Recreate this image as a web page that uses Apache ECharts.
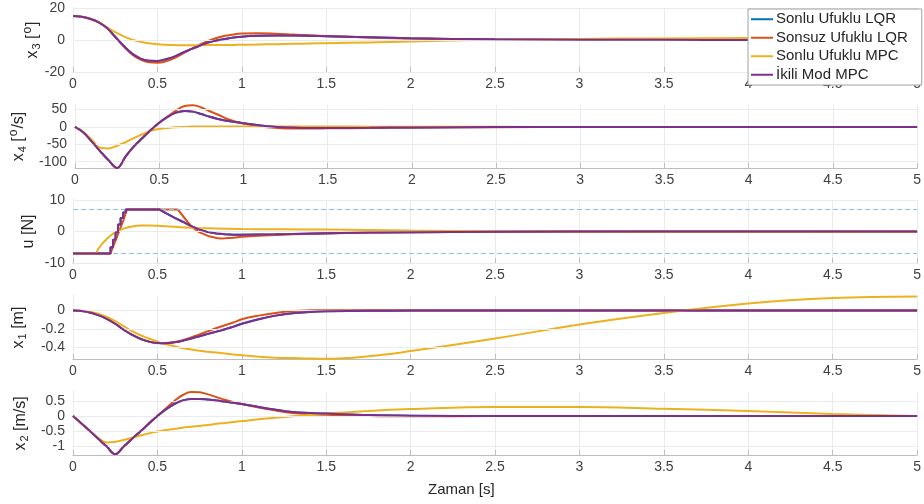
<!DOCTYPE html>
<html>
<head>
<meta charset="utf-8">
<script src="https://cdn.jsdelivr.net/npm/echarts@6/dist/echarts.min.js"></script>
<style>html,body{margin:0;padding:0;background:#fff;}#c{width:924px;height:504px;}</style>
</head>
<body>
<div id="c"></div>
<script>
// ---- data ----
const seriesNames = ['Sonlu Ufuklu LQR', 'Sonsuz Ufuklu LQR', 'Sonlu Ufuklu MPC', 'İkili Mod MPC'];
const xTicks = [0, 0.5, 1, 1.5, 2, 2.5, 3, 3.5, 4, 4.5, 5];
const yTicksX3 = [-20, 0, 20];
const yTicksX4 = [-100, -50, 0, 50];
const yTicksU  = [-10, 0, 10];
const yTicksX1 = [-0.4, -0.2, 0];
const yTicksX2 = [-1, -0.5, 0, 0.5];
const T = [0,0.05,0.1,0.15,0.2,0.25,0.3,0.35,0.4,0.45,0.5,0.55,0.6,0.65,0.7,0.75,0.8,0.85,0.9,0.95,1.0,1.1,1.2,1.3,1.4,1.5,1.75,2,2.5,3,3.5,4,4.5,5];

// x3 [deg]
const x3Dual = [15,14.6,13.3,11.2,7.6,2,-3.6,-8.5,-11.6,-13,-13.1,-12,-10.4,-7.9,-5.7,-3.6,-1.6,-0.3,0.6,1.5,2.1,2.6,2.8,2.8,2.7,2.4,1.7,1.1,0.4,0.2,0.1,0,0,0];
const x3Inf  = [15,14.6,13.3,11.2,7.6,1.8,-4,-9,-12.3,-13.9,-14.2,-13.3,-11.3,-8.5,-5.6,-2.9,-0.6,1.2,2.6,3.5,4.0,4.2,3.9,3.4,2.9,2.5,1.6,0.9,0.2,0,0,0,0,0];
const x3Mpc  = [15,14.6,13.3,11.3,8,4.9,2.3,0.2,-1.1,-2.1,-2.7,-3.0,-3.2,-3.3,-3.3,-3.3,-3.2,-3.2,-3.1,-3.1,-3.0,-2.8,-2.6,-2.4,-2.2,-2.0,-1.5,-0.9,0.3,0.7,1.0,1.2,1.2,1.0];
const x3Fin  = x3Dual;

// x4 [deg/s]
const x4Dual = [0,-16,-42,-70,-96,-118,-85,-56,-32,-9,12,29,41,46,44,37,29,23,18,14,10.5,4,0,-2,-3,-3,-2.5,-1.5,-0.5,-0.2,0,0,0,0];
const x4Inf  = [0,-16,-42,-70,-96,-118,-85,-56,-32,-9,12,30,47,60,62.5,56,45,35,24,16,10,1,-3,-4.5,-4.5,-4,-3,-2,-0.7,-0.2,0,0,0,0];
const x4Mpc  = [0,-15,-37,-60,-62,-54,-44,-32,-21,-11,-6,-3,-1,0,1,1.3,1.5,1.5,1.5,1.5,1.5,1.3,1.2,1.1,1.0,1.0,0.8,0.7,0.3,0,0,0,0,0];
const x4Fin  = x4Dual;

// u [N]
const uLimit = 7;
const uTDual = [0,0.222,0.222,0.237,0.237,0.252,0.252,0.267,0.267,0.282,0.282,0.297,0.297,0.312,0.312,0.51,0.55,0.6,0.65,0.7,0.75,0.8,0.85,0.9,0.95,1.0,1.1,1.2,1.3,1.5,1.75,2,2.5,3,4,5];
const uDual  = [-7,-7,-5,-5,-2.6,-2.6,-0.2,-0.2,2.2,2.2,4.3,4.3,6,6,7,7,5.8,4.4,3.1,1.7,0.6,-0.2,-0.6,-0.9,-1.0,-1.0,-0.95,-0.9,-0.8,-0.55,-0.35,-0.2,-0.07,0,0,0];
const uTInf  = [0,0.222,0.24,0.26,0.28,0.3,0.32,0.62,0.65,0.68,0.71,0.75,0.8,0.85,0.875,0.9,0.95,1.0,1.1,1.2,1.3,1.5,1.75,2,2.5,3,4,5];
const uInf   = [-7,-7,-4.5,-1.8,1,3.8,7,7,5,3,1.2,-0.3,-1.4,-2.05,-2.2,-2.15,-1.95,-1.7,-1.35,-1.1,-0.9,-0.6,-0.35,-0.2,-0.07,0,0,0];
const uTMpc  = [0,0.13,0.15,0.175,0.2,0.225,0.25,0.3,0.35,0.4,0.45,0.5,0.6,0.7,0.8,1.0,1.25,1.5,2,2.5,3,4,5];
const uMpc   = [-7,-7,-5.5,-3.8,-2.4,-1.2,-0.3,0.9,1.6,1.9,1.9,1.8,1.5,1.2,1.0,0.8,0.7,0.6,0.3,0.1,0,-0.05,0];
const uTFin  = uTDual;
const uFin   = uDual;

// x1 [m]
const x1Dual = [0,-0.005,-0.02,-0.05,-0.09,-0.144,-0.21,-0.265,-0.31,-0.34,-0.355,-0.357,-0.348,-0.33,-0.305,-0.28,-0.255,-0.23,-0.205,-0.175,-0.144,-0.095,-0.055,-0.028,-0.015,-0.008,-0.002,0,0,0,0,0,0,0];
const x1Inf  = [0,-0.005,-0.02,-0.05,-0.09,-0.144,-0.21,-0.265,-0.31,-0.34,-0.355,-0.355,-0.345,-0.325,-0.295,-0.26,-0.225,-0.19,-0.16,-0.13,-0.095,-0.055,-0.025,-0.005,0.003,0.005,0.004,0.002,0,0,0,0,0,0];
const x1Mpc  = [0,-0.002,-0.012,-0.035,-0.07,-0.115,-0.17,-0.225,-0.27,-0.305,-0.34,-0.37,-0.39,-0.41,-0.425,-0.44,-0.45,-0.46,-0.47,-0.48,-0.49,-0.505,-0.515,-0.52,-0.525,-0.527,-0.5,-0.443,-0.306,-0.151,-0.025,0.079,0.137,0.155];
const x1Fin  = x1Dual;

// x2 [m/s]
const x2Dual = [0,-0.25,-0.5,-0.76,-1.02,-1.27,-1.02,-0.76,-0.51,-0.25,0,0.22,0.4,0.52,0.57,0.57,0.55,0.52,0.48,0.44,0.4,0.3,0.21,0.13,0.1,0.08,0.03,0.01,0,0,0,0,0,0];
const x2Inf  = [0,-0.25,-0.5,-0.76,-1.02,-1.27,-1.02,-0.76,-0.51,-0.25,0,0.25,0.5,0.7,0.8,0.79,0.72,0.63,0.54,0.47,0.4,0.28,0.18,0.1,0.06,0.04,0,-0.01,0,0,0,0,0,0];
const x2Mpc  = [0,-0.25,-0.5,-0.74,-0.88,-0.86,-0.8,-0.72,-0.65,-0.58,-0.52,-0.47,-0.43,-0.39,-0.36,-0.33,-0.3,-0.26,-0.23,-0.2,-0.17,-0.11,-0.06,-0.01,0.03,0.08,0.17,0.23,0.3,0.3,0.24,0.17,0.07,0];
const x2Fin  = x2Dual;

// ---- chart ----
const colors = ['#0072BD', '#D95319', '#EDB120', '#7E2F8E'];
const FONT = "'Liberation Sans', Arial, Helvetica, sans-serif";
const axisGray = '#bdbdbd';
const gridGray = '#ebebeb';
const tickText = '#404040';
const limitBlue = '#8cc0ea';

const panels = [
  {top: 8,   height: 64, min: -20,  max: 20,   ticks: yTicksX3, gap: 30, name: '{n|x}{s|3}{n| [}{p|o}{n|]}',
   data: [x3Fin, x3Inf, x3Mpc, x3Dual]},
  {top: 105, height: 63, min: -118, max: 63,   ticks: yTicksX4, gap: 46, name: '{n|x}{s|4}{n| [}{p|o}{n|/s]}',
   data: [x4Fin, x4Inf, x4Mpc, x4Dual]},
  {top: 200, height: 63, min: -10,  max: 10,   ticks: yTicksU,  gap: 36, name: '{n|u [N]}',
   u: [[uTFin, uFin], [uTInf, uInf], [uTMpc, uMpc], [uTDual, uDual]]},
  {top: 296, height: 63, min: -0.53, max: 0.16, ticks: yTicksX1, gap: 45, name: '{n|x}{s|1}{n| [m]}',
   data: [x1Fin, x1Inf, x1Mpc, x1Dual]},
  {top: 392, height: 63, min: -1.3, max: 0.8,  ticks: yTicksX2, gap: 43, name: '{n|x}{s|2}{n| [m/s]}',
   data: [x2Fin, x2Inf, x2Mpc, x2Dual]}
];

const grid = [], xAxis = [], yAxis = [], series = [];
panels.forEach((p, i) => {
  grid.push({left: 73, right: 5, top: p.top, height: p.height, containLabel: false});
  xAxis.push({
    type: 'value', gridIndex: i, min: 0, max: 5, interval: 0.5,
    axisLine: {show: true, onZero: false, lineStyle: {color: axisGray, width: 1}},
    axisTick: {show: true, inside: true, length: 5, lineStyle: {color: axisGray}},
    axisLabel: {color: tickText, fontSize: 14, fontFamily: FONT, margin: 5},
    splitLine: {show: true, lineStyle: {color: gridGray, width: 1}},
    z: 1
  });
  yAxis.push({
    type: 'value', gridIndex: i, min: p.min, max: p.max,
    name: p.name, nameLocation: 'middle', nameRotate: 90, nameGap: p.gap, nameMoveOverlap: false,
    nameTextStyle: {
      rich: {
        n: {fontSize: 16, color: '#262626', fontFamily: FONT},
        s: {fontSize: 11, color: '#262626', fontFamily: FONT, padding: [8, 0, 0, 1]},
        p: {fontSize: 12, color: '#262626', fontFamily: FONT, padding: [0, 1, 9, 1]}
      }
    },
    axisLine: {show: true, onZero: false, lineStyle: {color: axisGray, width: 1}},
    axisTick: {show: true, inside: true, length: 5, customValues: p.ticks, lineStyle: {color: axisGray}},
    axisLabel: {color: tickText, fontSize: 14, fontFamily: FONT, margin: 8, customValues: p.ticks},
    splitLine: {show: false}
  });
  for (let k = 0; k < 4; k++) {
    let d;
    if (p.u) {
      const [tt, vv] = p.u[k];
      d = tt.map((t, j) => [t, vv[j]]);
    } else {
      d = T.map((t, j) => [t, p.data[k][j]]);
    }
    const smooth = p.u ? (k === 2 ? 0.4 : false) : 0.4;
    const s = {
      name: seriesNames[k], type: 'line', xAxisIndex: i, yAxisIndex: i,
      data: d, symbol: 'none', smooth: smooth,
      lineStyle: {color: colors[k], width: 2}, itemStyle: {color: colors[k]},
      animation: false, z: 2 + k
    };
    if (k === 0) {
      s.markLine = {
        silent: true, symbol: 'none', label: {show: false}, animation: false,
        lineStyle: {color: gridGray, width: 1, type: 'solid'},
        data: p.ticks.map(v => ({yAxis: v}))
      };
    }
    if (k === 1 && p.u) {
      s.markLine = {
        silent: true, symbol: 'none', label: {show: false}, animation: false,
        lineStyle: {color: limitBlue, width: 1, type: [5, 3], opacity: 1},
        emphasis: {disabled: true},
        data: [{yAxis: uLimit}, {yAxis: -uLimit}]
      };
    }
    series.push(s);
  }
});

const chart = echarts.init(document.getElementById('c'), null, {renderer: 'canvas'});
chart.setOption({
  animation: false,
  backgroundColor: '#ffffff',
  grid, xAxis, yAxis, series,
  legend: {
    data: seriesNames, orient: 'vertical', left: 748, top: 9, z: 20,
    icon: 'rect', itemWidth: 22, itemHeight: 2, itemGap: 2,
    padding: [2, 14, 2, 3],
    backgroundColor: '#ffffff', borderColor: '#a0a0a0', borderWidth: 1, borderRadius: 0,
    textStyle: {fontSize: 15, lineHeight: 16.5, color: '#262626', fontFamily: FONT, padding: [0, 0, 0, -2]},
    selectedMode: false
  },
  graphic: [{
    type: 'text', left: 428, top: 482,
    style: {text: 'Zaman [s]', fontSize: 15, fill: '#262626', fontFamily: FONT}
  }]
});
</script>
</body>
</html>
